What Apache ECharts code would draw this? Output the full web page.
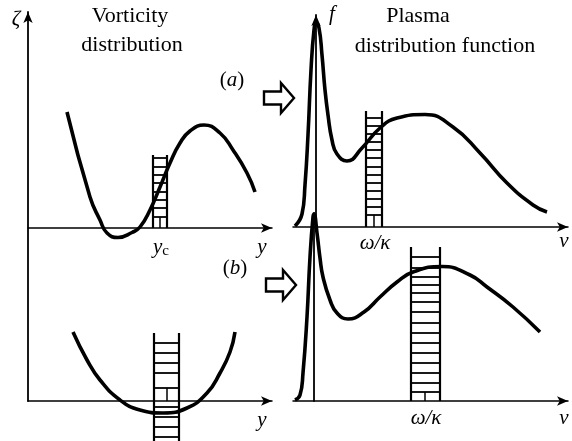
<!DOCTYPE html>
<html>
<head>
<meta charset="utf-8">
<script src="https://cdn.jsdelivr.net/npm/echarts@6/dist/echarts.min.js"></script>
<style>
html, body { margin: 0; background: #fff; }
#chart { width: 572px; height: 441px; }
</style>
</head>
<body>
<div id="chart"></div>
<script>
// curves in axis units (about 10px a unit), origin where the axes cross
var vortA = [[3.9,11.6],[6.2,3.1],[7.2,0.8],[7.9,-0.5],[9.0,-0.95],[10.4,-0.45],[11.2,0.1],
    [12.2,1.8],[13.2,4.1],[14.2,6.5],[15.2,8.5],[16.2,9.7],[17.6,10.3],[19.2,9.5],
    [20.5,7.8],[21.9,5.5],[22.7,3.6]];
var vortB = [[4.5,6.9],[5.9,4.1],[7.2,2.1],[9.2,0.1],[11.2,-0.9],[13.5,-1.2],[15.9,-0.7],
    [17.9,0.8],[19.2,2.8],[20.2,4.9],[20.7,6.9]];
var plasmaA = [[-2.1,0.1],[-1.4,1.3],[-1.1,4.2],[-0.8,9.2],[-0.5,15.7],[-0.2,19.7],[0,20.4],
    [0.3,19.9],[0.6,17.2],[0.9,13.7],[1.2,11.2],[1.6,8.7],[2.1,7.3],[3.1,6.6],
    [4.6,7.9],[6.4,9.9],[8.1,10.9],[10.9,11.25],[13.7,10.0],[16.4,7.4],[19.1,4.4],
    [21.7,2.2],[23.1,1.5]];
var plasmaB = [[-1.9,0.1],[-1.4,0.6],[-1.1,2.8],[-0.7,8.4],[-0.4,14.4],[-0.1,18.4],[0,18.7],
    [0.3,16.8],[0.6,14.3],[0.9,12.4],[1.6,10.1],[2.3,8.8],[3.4,8.2],[5.0,8.9],
    [6.6,10.4],[8.3,11.9],[9.9,12.9],[12.8,13.45],[15.6,12.6],[17.3,11.4],
    [19.9,9.4],[22.6,6.9]];

// ladders: [xLeft, xRight, yBottom, yTop, xMark, yMarkTop]
var ladderVortA = [12.5, 13.9, 0, 7.3, 13.2, 1.1];
var rungsVortA = [7.0, 6.1, 5.3, 4.5, 3.6, 2.8, 2.0, 1.1];
var ladderVortB = [12.6, 15.1, -4.0, 6.8, 13.9, 1.3];
var rungsVortB = [5.8, 4.8, 3.8, 2.8, 1.3, -0.6, -1.6, -2.6, -3.6];
var ladderPlasmaA = [5.0, 6.6, 0, 11.6, 5.8, 1.2];
var rungsPlasmaA = [10.9, 10.1, 9.3, 8.5, 7.7, 6.9, 6.0, 5.2, 4.4, 3.6, 2.8, 2.0, 1.2];
var ladderPlasmaB = [9.7, 12.6, 0, 15.4, 11.1, 0.9];
var rungsPlasmaB = [14.4, 13.3, 12.4, 11.6, 10.8, 9.9, 8.9, 7.8, 6.8, 5.8, 4.8, 3.8, 2.8, 1.8, 0.9];

var SERIF = '"Liberation Serif", "DejaVu Serif", serif';

function xAx(idx, min, max) {
    return {
        gridIndex: idx, type: 'value', min: min, max: max,
        axisLine: {show: true, onZero: true, symbol: ['none', 'arrow'], symbolSize: [7, 11],
            lineStyle: {color: '#000', width: 1.5}},
        axisTick: {show: false}, axisLabel: {show: false}, splitLine: {show: false}
    };
}
function yAx(idx, min, max, line, arrow) {
    return {
        gridIndex: idx, type: 'value', min: min, max: max,
        axisLine: {show: line, onZero: true, symbol: ['none', arrow ? 'arrow' : 'none'], symbolSize: [7, 11],
            lineStyle: {color: '#000', width: 1.8}},
        axisTick: {show: false}, axisLabel: {show: false}, splitLine: {show: false}
    };
}
function curve(idx, data) {
    return {
        type: 'line', xAxisIndex: idx, yAxisIndex: idx, data: data, smooth: 0.5,
        symbol: 'none', clip: false, lineStyle: {color: '#000', width: 3.6}, z: 3
    };
}
function ladder(idx, box, rungs) {
    return {
        type: 'custom', xAxisIndex: idx, yAxisIndex: idx, data: [box], clip: false, z: 2,
        renderItem: function (params, api) {
            var x0 = api.value(0), x1 = api.value(1), yb = api.value(2), yt = api.value(3);
            var seg = function (a, b, w) {
                var p = api.coord(a), q = api.coord(b);
                return {type: 'line', shape: {x1: p[0], y1: p[1], x2: q[0], y2: q[1]},
                    style: {stroke: '#000', lineWidth: w}};
            };
            var kids = [seg([x0, yb], [x0, yt], 2.2), seg([x1, yb], [x1, yt], 2.2),
                seg([api.value(4), 0], [api.value(4), api.value(5)], 1.5)];
            rungs.forEach(function (v) {
                kids.push(seg([x0, v], [x1, v], 1.8));
            });
            return {type: 'group', children: kids};
        }
    };
}
function txt(x, y, text, size, italic, rich) {
    var st = {text: text, fill: '#000', align: 'center', verticalAlign: 'middle',
        font: (italic ? 'italic ' : '') + size + 'px ' + SERIF};
    if (rich) st.rich = rich;
    return {type: 'text', x: x, y: y, style: st, z: 10};
}
function hollowArrow(x, y) {
    return {
        type: 'polygon', x: x, y: y, z: 10,
        shape: {points: [[0, -6.5], [17, -6.5], [17, -15], [30, 0], [17, 15], [17, 6.5], [0, 6.5]]},
        style: {fill: '#fff', stroke: '#000', lineWidth: 2.4}
    };
}

var chart = echarts.init(document.getElementById('chart'));
var richA = {
    p: {font: '21px ' + SERIF},
    i: {font: 'italic 21px ' + SERIF}
};
var richYc = {
    i: {font: 'italic 21px ' + SERIF},
    s: {font: '15px ' + SERIF, verticalAlign: 'bottom', padding: [8, 0, 0, 0]}
};
chart.setOption({
    animation: false,
    backgroundColor: '#fff',
    grid: [
        {left: 28, top: 12, width: 244, height: 389},
        {left: 28, top: 240, width: 244, height: 201},
        {left: 293, top: 15, width: 275, height: 212},
        {left: 293, top: 213, width: 275, height: 188}
    ],
    xAxis: [xAx(0, 0, 24.4), xAx(1, 0, 24.4), xAx(2, -2.3, 25.2), xAx(3, -2.1, 25.4)],
    yAxis: [yAx(0, -17.3, 21.6, true, true), yAx(1, -4.0, 16.1, false, false),
        yAx(2, 0, 21.2, true, true), yAx(3, 0, 18.8, true, false)],
    series: [
        ladder(0, ladderVortA, rungsVortA), curve(0, vortA),
        ladder(1, ladderVortB, rungsVortB), curve(1, vortB),
        ladder(2, ladderPlasmaA, rungsPlasmaA), curve(2, plasmaA),
        ladder(3, ladderPlasmaB, rungsPlasmaB), curve(3, plasmaB)
    ],
    graphic: [
        txt(130, 16, 'Vorticity', 22, false),
        txt(132, 45, 'distribution', 22, false),
        txt(418, 16, 'Plasma', 22, false),
        txt(445, 46, 'distribution function', 22, false),
        txt(16, 19, 'ζ', 21, true),
        txt(332, 14, 'f', 21, true),
        txt(232, 80, '{p|(}{i|a}{p|)}', 21, false, richA),
        txt(235, 268, '{p|(}{i|b}{p|)}', 21, false, richA),
        txt(161, 247, '{i|y}{s|c}', 21, false, richYc),
        txt(262, 247, 'y', 21, true),
        txt(262, 420, 'y', 21, true),
        txt(564, 241, 'v', 21, true),
        txt(564, 418, 'v', 21, true),
        txt(375, 243, 'ω/κ', 21, true),
        txt(426, 418, 'ω/κ', 21, true),
        hollowArrow(264, 98),
        hollowArrow(266, 285)
    ]
});
</script>
</body>
</html>
